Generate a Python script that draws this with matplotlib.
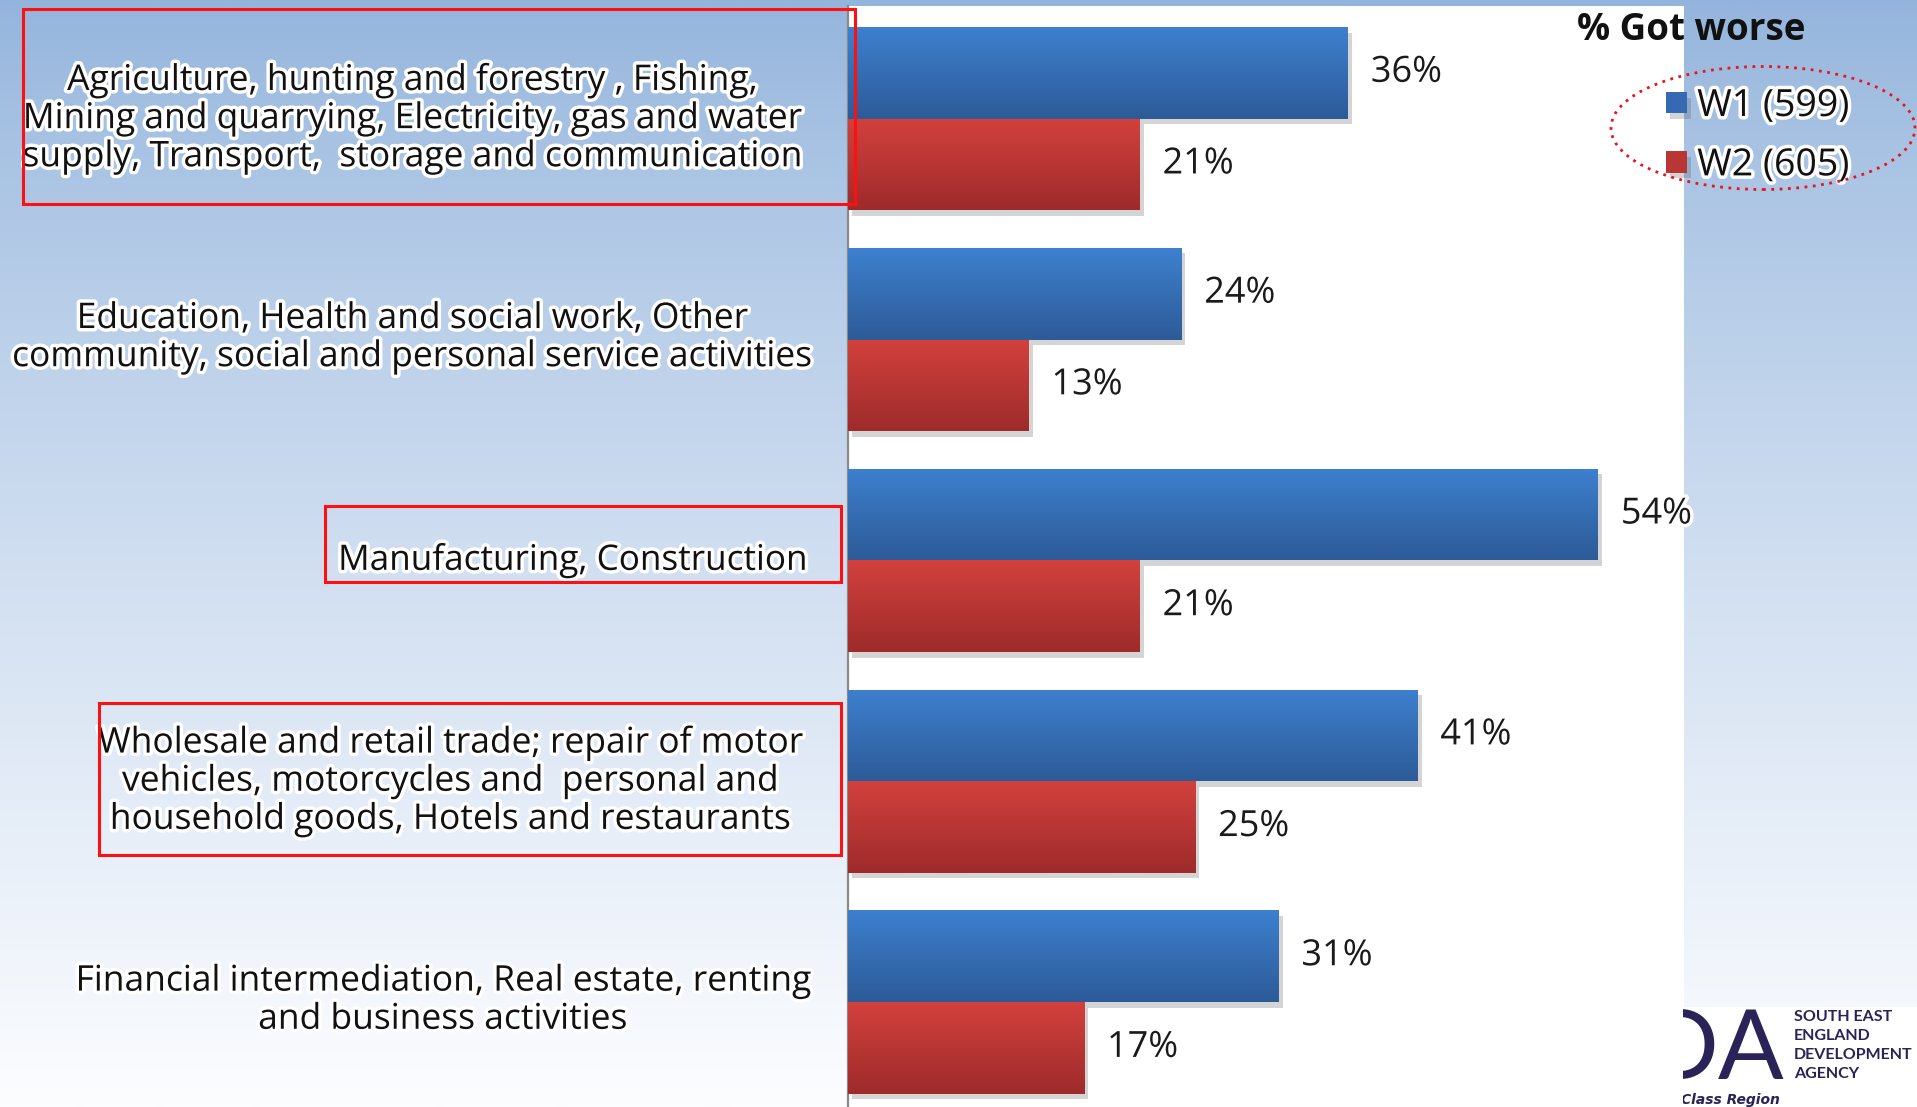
import numpy as np
import matplotlib
matplotlib.use("Agg")
import matplotlib.pyplot as plt
import matplotlib.patheffects as pe
from matplotlib.patches import Rectangle, Ellipse
from matplotlib.transforms import blended_transform_factory

# ---------------- data ----------------
categories = [
    "Agriculture, hunting and forestry , Fishing,\nMining and quarrying, Electricity, gas and water\nsupply, Transport,  storage and communication",
    "Education, Health and social work, Other\ncommunity, social and personal service activities",
    "Manufacturing, Construction",
    "Wholesale and retail trade; repair of motor\nvehicles, motorcycles and  personal and\nhousehold goods, Hotels and restaurants",
    "Financial intermediation, Real estate, renting\nand business activities",
]
w1_values = [36, 24, 54, 41, 31]
w2_values = [21, 13, 21, 25, 17]
series_names = ["W1 (599)", "W2 (605)"]
chart_title = "% Got worse"

# ---------------- layout / style ----------------
W, H = 1917, 1107
DPI = 100
fig = plt.figure(figsize=(W / DPI, H / DPI), dpi=DPI)

def fx(x):
    return x / W

def fy(y):
    return 1 - y / H

# background gradient (blue top -> white bottom)
bg = fig.add_axes([0, 0, 1, 1], zorder=-10)
t = np.linspace(0, 1, 400) ** 0.8
top = np.array([147, 180, 220]) / 255
bot = np.array([252, 253, 255]) / 255
grad = (top[None, :] * (1 - t[:, None]) + bot[None, :] * t[:, None])[:, None, :]
bg.imshow(grad, aspect="auto", extent=(0, 1, 0, 1), origin="upper")
bg.set_xlim(0, 1); bg.set_ylim(0, 1)
bg.axis("off")

# main axes
ax = fig.add_axes([fx(848), 0, fx(1684) - fx(848), fy(6)], zorder=1)
ax.set_facecolor("white")

n = len(categories)
y = np.arange(n)
h = 0.415
blue_mid, red_mid = "#3669B3", "#BA3634"
bars1 = ax.barh(y - h / 2, w1_values, height=h, color=blue_mid, label=series_names[0], zorder=2)
bars2 = ax.barh(y + h / 2, w2_values, height=h, color=red_mid, label=series_names[1], zorder=2)

grad_cols = {
    0: (np.array([61, 128, 206]) / 255, np.array([45, 91, 152]) / 255),
    1: (np.array([210, 65, 61]) / 255, np.array([158, 43, 43]) / 255),
}
for k, bars in enumerate([bars1, bars2]):
    c0, c1 = grad_cols[k]
    s = np.linspace(0, 1, 64)[:, None, None]
    g = c0[None, None, :] * (1 - s) + c1[None, None, :] * s
    for b in bars:
        b.set_path_effects([pe.SimplePatchShadow(offset=(3, -4), alpha=0.25, shadow_rgbFace="#555555"), pe.Normal()])
        x0, y0 = b.get_x(), b.get_y()
        im = ax.imshow(g, aspect="auto", origin="upper",
                       extent=(x0, x0 + b.get_width(), y0 + b.get_height(), y0), zorder=3)
        im.set_clip_path(b)

ax.set_xlim(0, 60.2)
ax.set_ylim(n - 1 + 0.475, -0.51)
ax.set_xticks([]); ax.set_yticks([])
for sp in ["top", "right", "bottom"]:
    ax.spines[sp].set_visible(False)
ax.spines["left"].set_color("#8a8a8a")
ax.spines["left"].set_linewidth(1.6)

halo = [pe.withStroke(linewidth=5, foreground="white")]

# value labels
for bars, vals in [(bars1, w1_values), (bars2, w2_values)]:
    for b, v in zip(bars, vals):
        ax.annotate(f"{v}%", xy=(v, b.get_y() + b.get_height() / 2), xytext=(16.5, 0),
                    textcoords="offset points", va="center", ha="left",
                    fontsize=26, family="Open Sans", color="#1a1a1a",
                    path_effects=halo, zorder=5, annotation_clip=False)

# category labels
label_x = [412, 412, 573, 450, 443]
label_dy = [0, 1, 0, 0, 1]
label_size = [25.5, 25.5, 25.3, 25.5, 25.5]
trans = blended_transform_factory(fig.transFigure, ax.transData)
for i, cat in enumerate(categories):
    ax.annotate(cat, xy=(fx(label_x[i]), y[i]), xycoords=trans,
                xytext=(0, label_dy[i]), textcoords="offset points",
                ha="center", va="center", multialignment="center",
                fontsize=label_size[i], family="Open Sans", color="#111111",
                linespacing=1.16, path_effects=halo, zorder=6, annotation_clip=False)

# red highlight boxes
for (x0, y0, x1, y1) in [(23, 9, 855, 204), (325, 506, 841, 582), (99, 703, 841, 855)]:
    fig.patches.append(Rectangle((fx(x0), fy(y1)), fx(x1) - fx(x0), fy(y0) - fy(y1),
                                 transform=fig.transFigure, fill=False, edgecolor="#ff1010",
                                 linewidth=2.2, zorder=7))

# title & legend
fig.text(fx(1577), fy(30), chart_title, ha="left", va="center", fontsize=26.5,
         family="Open Sans", weight="bold", color="#111111", zorder=8)
leg = ax.legend(handles=[bars1, bars2], labels=series_names, loc="upper left",
                bbox_to_anchor=(fx(1666), fy(87)), bbox_transform=fig.transFigure,
                frameon=False, borderpad=0, borderaxespad=0, handlelength=0.56,
                handleheight=0.5, handletextpad=0.27, labelspacing=0.57,
                prop={"family": "Open Sans", "size": 27})
for tx in leg.get_texts():
    tx.set_path_effects(halo)
    tx.set_color("#111111")
leg.set_zorder(8)
fig.patches.append(Ellipse((fx(1763), fy(128)), fx(304), 123 / H, transform=fig.transFigure,
                           fill=False, edgecolor="#e8141a", linestyle=(0, (1, 2)),
                           linewidth=2, zorder=7))

# logo
navy = "#2a2358"
lax = fig.add_axes([fx(1683), 0, 1 - fx(1683), fy(1007)], zorder=9)
lax.set_facecolor("white")
lax.set_xlim(1683, W); lax.set_ylim(H, 1007)
lax.set_xticks([]); lax.set_yticks([])
for sp in lax.spines.values():
    sp.set_visible(False)
lax.text(1784, 1079, "DA", ha="right", va="baseline", fontsize=70, family="Lato",
         color=navy, clip_on=True)
lax.text(1794, 1010, "SOUTH EAST\nENGLAND\nDEVELOPMENT\nAGENCY", ha="left", va="top",
         fontsize=11.5, family="Lato", weight="bold", color=navy, linespacing=1.45)
lax.text(1681, 1100, "Class Region", ha="left", va="center", fontsize=10,
         family="DejaVu Sans", weight="bold", style="italic", color=navy, clip_on=True)

fig.savefig("out.png", dpi=DPI)
